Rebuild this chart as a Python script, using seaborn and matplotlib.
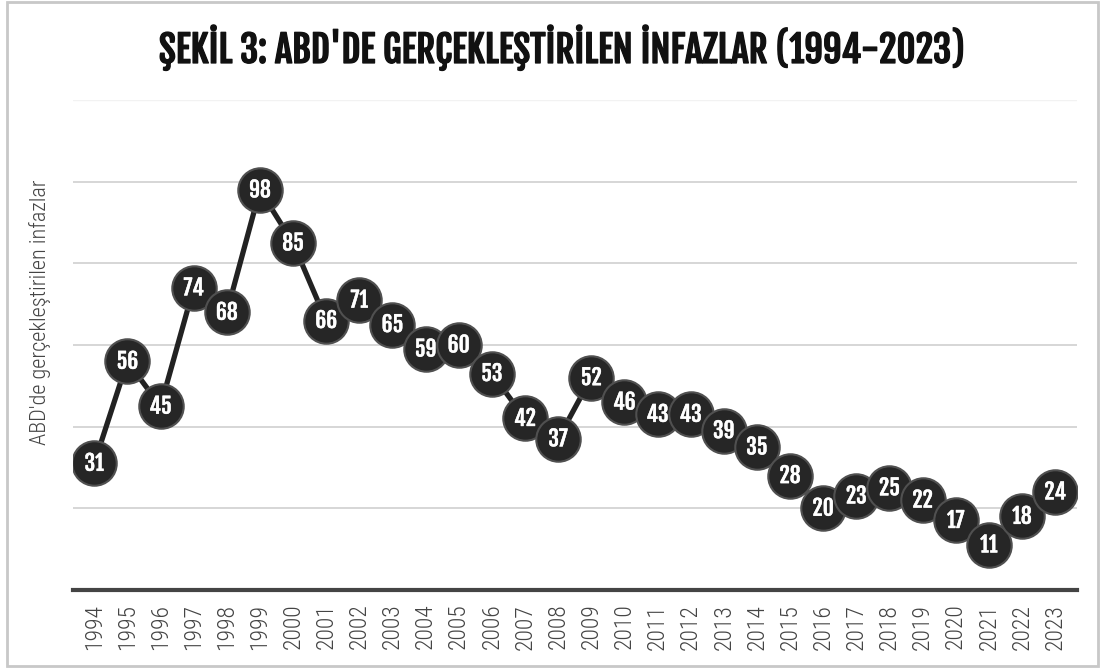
import matplotlib
matplotlib.use("Agg")
import matplotlib.pyplot as plt
import matplotlib.patheffects as pe
import seaborn as sns
import pandas as pd
from matplotlib.patches import Rectangle

# Données
annees = list(range(1994, 2024))
infazlar = [31, 56, 45, 74, 68, 98, 85, 66, 71, 65, 59, 60, 53, 42, 37,
            52, 46, 43, 43, 39, 35, 28, 20, 23, 25, 22, 17, 11, 18, 24]
titre = "ŞEKİL 3: ABD'DE GERÇEKLEŞTİRİLEN İNFAZLAR (1994-2023)"
label_y = "ABD'de gerçekleştirilen infazlar"

df = pd.DataFrame({"annee": annees, "infaz": infazlar})

sns.set_style("white")
police_titre = ['Fjalla One', 'Oswald', 'DejaVu Sans']
police_texte = ['Roboto Condensed', 'DejaVu Sans']
plt.rcParams['font.family'] = police_texte

fig = plt.figure(figsize=(11.02, 6.68), dpi=100)
ax = fig.add_axes([0.066, 0.117, 0.911, 0.733])

sns.lineplot(data=df, x="annee", y="infaz", ax=ax, color="#222222",
             linewidth=3.8, marker="o", markersize=32,
             markerfacecolor="#262626", markeredgecolor="#505050",
             markeredgewidth=1.5)

# étiquettes dans les cercles
for a, v in zip(df["annee"], df["infaz"]):
    ax.text(a, v, str(v), color="white", fontsize=15.5, family=police_titre,
            ha="center", va="center", zorder=5,
            path_effects=[pe.withStroke(linewidth=0.3, foreground="white")])

ax.set_xlim(1993.35, 2023.65)
ax.set_ylim(0, 120)
ax.set_yticks([20, 40, 60, 80, 100])
ax.set_yticklabels([])
ax.tick_params(axis="y", length=0)
ax.grid(axis="y", color="#d0d0d0", linewidth=1.2)
ax.axhline(120, color="#f2f2f2", linewidth=1)
ax.set_axisbelow(True)

ax.set_xticks(annees)
ax.set_xticklabels([str(a) for a in annees], rotation=90, fontsize=17,
                   color="#444444", fontweight="light")
ax.tick_params(axis="x", length=0, pad=10)

for s in ["top", "right", "left"]:
    ax.spines[s].set_visible(False)
ax.spines["bottom"].set_color("#444444")
ax.spines["bottom"].set_linewidth(3)

ax.set_xlabel("")
ax.set_ylabel("")
fig.text(40 / 1102, 1 - 312 / 668, label_y, rotation=90, ha="center", va="center",
         fontsize=16, color="#444444", fontweight="light")

fig.text(561 / 1102, 1 - 63 / 668, titre, ha="center", va="baseline", fontsize=26.5,
         family=police_titre, color="#111111",
         path_effects=[pe.withStroke(linewidth=0.9, foreground="#111111")])

fig.patches.append(Rectangle((0.006, 0.003), 0.99, 0.994, transform=fig.transFigure,
                             fill=False, edgecolor="#c8c8c8", linewidth=2))

plt.savefig("out.png", dpi=100)
